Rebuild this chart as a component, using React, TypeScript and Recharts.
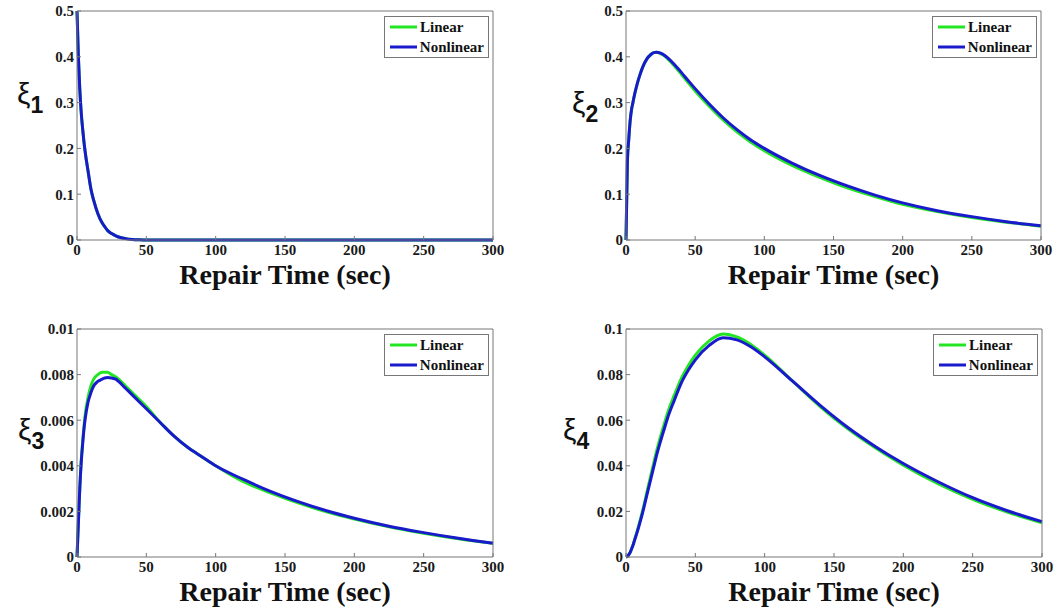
import { LineChart, Line, XAxis, YAxis, Legend, Label } from 'recharts';

// sample times (sec) shared by every series
const times = [
  0, 1, 2, 3, 4, 5, 6, 8, 10, 12, 15, 18, 20, 22, 25, 28, 30, 35, 40, 45, 50,
  60, 70, 80, 90, 100, 120, 140, 160, 180, 200, 225, 250, 275, 300,
];
const timeTicks = [0, 50, 100, 150, 200, 250, 300];

const xi1Linear = [
  0.5, 0.4, 0.33, 0.28, 0.245, 0.215, 0.19, 0.15, 0.112, 0.087, 0.058, 0.038,
  0.029, 0.021, 0.014, 0.009, 0.0065, 0.003, 0.0012, 0.0004, 0, 0, 0, 0, 0, 0,
  0, 0, 0, 0, 0, 0, 0, 0, 0,
];
const xi1Nonlinear = [
  0.5, 0.4, 0.33, 0.28, 0.245, 0.215, 0.19, 0.15, 0.112, 0.087, 0.058, 0.038,
  0.029, 0.021, 0.014, 0.009, 0.0065, 0.003, 0.0012, 0.0004, 0, 0, 0, 0, 0, 0,
  0, 0, 0, 0, 0, 0, 0, 0, 0,
];

const xi2Linear = [
  0, 0.17, 0.22, 0.26, 0.285, 0.3, 0.315, 0.34, 0.36, 0.377, 0.395, 0.405,
  0.409, 0.41, 0.407, 0.4015, 0.396, 0.38, 0.362, 0.3435, 0.3255, 0.2925,
  0.2625, 0.2365, 0.214, 0.195, 0.163, 0.137, 0.114, 0.095, 0.078, 0.062,
  0.049, 0.039, 0.03,
];
const xi2Nonlinear = [
  0, 0.17, 0.22, 0.26, 0.285, 0.3, 0.315, 0.34, 0.36, 0.377, 0.395, 0.405,
  0.409, 0.41, 0.408, 0.403, 0.398, 0.383, 0.366, 0.348, 0.3305, 0.2975,
  0.2675, 0.2415, 0.219, 0.2, 0.168, 0.141, 0.118, 0.098, 0.081, 0.064, 0.051,
  0.04, 0.031,
];

const xi3Linear = [
  0, 0.0015, 0.003, 0.0042, 0.005, 0.0057, 0.0063, 0.007, 0.0075, 0.0078,
  0.008, 0.0081, 0.0081, 0.0081, 0.008, 0.0079, 0.0078, 0.0075, 0.0072,
  0.0069, 0.0066, 0.0059, 0.0053, 0.0048, 0.0044, 0.004, 0.0033, 0.0028,
  0.00236, 0.00198, 0.00166, 0.00132, 0.00104, 0.0008, 0.0006,
];
const xi3Nonlinear = [
  0, 0.0015, 0.003, 0.0041, 0.0049, 0.0056, 0.0061, 0.0068, 0.0072, 0.0075,
  0.0077, 0.0078, 0.00785, 0.00787, 0.00785, 0.0078, 0.0077, 0.0074, 0.0071,
  0.0068, 0.0065, 0.0059, 0.0053, 0.0048, 0.0044, 0.004, 0.0034, 0.00287,
  0.00242, 0.00203, 0.0017, 0.00135, 0.00107, 0.00082, 0.0006,
];

const xi4Linear = [
  0, 0.0003, 0.001, 0.002, 0.0036, 0.0052, 0.0072, 0.0112, 0.0157, 0.0203,
  0.0282, 0.036, 0.0412, 0.0463, 0.053, 0.0592, 0.0632, 0.0712, 0.0785,
  0.084, 0.0885, 0.0948, 0.0978, 0.0965, 0.0932, 0.0885, 0.0772, 0.066,
  0.0562, 0.0478, 0.0403, 0.0322, 0.0253, 0.0197, 0.015,
];
const xi4Nonlinear = [
  0, 0.0003, 0.001, 0.002, 0.0035, 0.005, 0.007, 0.0108, 0.015, 0.0195,
  0.027, 0.0345, 0.0395, 0.0445, 0.051, 0.057, 0.061, 0.069, 0.0765, 0.082,
  0.0865, 0.0928, 0.0962, 0.0952, 0.0922, 0.0878, 0.0772, 0.0665, 0.0568,
  0.0484, 0.041, 0.033, 0.026, 0.0203, 0.0155,
];

const yTicksLarge = [0, 0.1, 0.2, 0.3, 0.4, 0.5];
const yTicksXi3 = [0, 0.002, 0.004, 0.006, 0.008, 0.01];
const yTicksXi4 = [0, 0.02, 0.04, 0.06, 0.08, 0.1];

const SERIF = '"Liberation Serif", "Times New Roman", serif';
const SANS = '"Liberation Sans", Arial, sans-serif';
const GREEN = '#22e622';
const BLUE = '#1a1acd';
const AXIS = '#777';

const tickStyle = { fontFamily: SERIF, fontWeight: 'bold', fontSize: 15, fill: '#1a1a1a' };

type PanelProps = {
  index: number;
  linear: number[];
  nonlinear: number[];
  yTicks: number[];
  left: number;
  top: number;
  width: number;
  height: number;
  plotLeft: number;
  plotTop: number;
  plotRight: number;
  plotBottom: number;
  symbolX: number;
  symbolY: number;
};

function XiPanel(p: PanelProps) {
  const data = times.map((t, i) => ({ t, linear: p.linear[i], nonlinear: p.nonlinear[i] }));
  const yMax = p.yTicks[p.yTicks.length - 1];
  const midX = (p.plotLeft + p.plotRight) / 2;

  return (
    <div style={{ position: 'absolute', left: p.left, top: p.top }}>
      <LineChart
        width={p.width}
        height={p.height}
        data={data}
        margin={{ top: p.plotTop - 1, right: p.width - p.plotRight - 1, left: 0, bottom: 0 }}
      >
        <XAxis
          xAxisId="bottom"
          dataKey="t"
          type="number"
          domain={[0, 300]}
          ticks={timeTicks}
          interval={0}
          height={p.height - p.plotBottom}
          stroke={AXIS}
          tickSize={-4}
          tickMargin={8}
          tick={tickStyle}
        >
          <Label
            content={() => (
              <text
                x={midX}
                y={p.plotBottom + 44}
                textAnchor="middle"
                fontFamily={SERIF}
                fontWeight="bold"
                fontSize={28}
                fill="#111"
              >
                Repair Time (sec)
              </text>
            )}
          />
        </XAxis>
        {/* mirrored axes close the box and carry the inward ticks */}
        <XAxis
          xAxisId="top"
          orientation="top"
          dataKey="t"
          type="number"
          domain={[0, 300]}
          ticks={timeTicks}
          interval={0}
          height={1}
          stroke={AXIS}
          tickSize={-4}
          tick={false}
        />
        <YAxis
          yAxisId="left"
          type="number"
          domain={[0, yMax]}
          ticks={p.yTicks}
          interval={0}
          width={p.plotLeft}
          stroke={AXIS}
          tickSize={-4}
          tickMargin={7}
          tick={tickStyle}
          tickFormatter={(v: number) => String(v)}
        >
          <Label
            content={() => (
              <text x={p.symbolX} y={p.symbolY} fontFamily={SANS} fill="#111">
                <tspan fontSize={30}>ξ</tspan>
                <tspan fontSize={23} fontWeight="bold" dy={9}>
                  {p.index}
                </tspan>
              </text>
            )}
          />
        </YAxis>
        <YAxis
          yAxisId="right"
          orientation="right"
          type="number"
          domain={[0, yMax]}
          ticks={p.yTicks}
          interval={0}
          width={1}
          stroke={AXIS}
          tickSize={-4}
          tick={false}
        />
        <Legend
          layout="vertical"
          align="center"
          verticalAlign="middle"
          wrapperStyle={{ left: p.plotRight - 109, top: p.plotTop + 5, width: 105 }}
          content={({ payload }: any) => (
            <div
              style={{
                border: `1px solid ${AXIS}`,
                background: '#fff',
                padding: '0 4px 0 5px',
                boxSizing: 'border-box',
                width: 105,
              }}
            >
              {(payload || []).map((entry: any) => (
                <div
                  key={entry.value}
                  style={{ display: 'flex', alignItems: 'center', height: 20 }}
                >
                  <svg width={28} height={20} style={{ marginRight: 2 }}>
                    <line x1={0} y1={10} x2={27} y2={10} stroke={entry.color} strokeWidth={3} />
                  </svg>
                  <span
                    style={{
                      fontFamily: SERIF,
                      fontWeight: 'bold',
                      fontSize: 15,
                      color: '#111',
                    }}
                  >
                    {entry.value}
                  </span>
                </div>
              ))}
            </div>
          )}
        />
        <Line
          xAxisId="bottom"
          yAxisId="left"
          type="monotone"
          dataKey="linear"
          name="Linear"
          stroke={GREEN}
          strokeWidth={3}
          dot={false}
          isAnimationActive={false}
        />
        <Line
          xAxisId="bottom"
          yAxisId="left"
          type="monotone"
          dataKey="nonlinear"
          name="Nonlinear"
          stroke={BLUE}
          strokeWidth={3}
          dot={false}
          isAnimationActive={false}
        />
      </LineChart>
    </div>
  );
}

export default function App() {
  return (
    <div
      style={{
        position: 'absolute',
        left: 0,
        top: 0,
        width: 1055,
        height: 610,
        background: '#fff',
        overflow: 'hidden',
      }}
    >
      <XiPanel
        index={1}
        linear={xi1Linear}
        nonlinear={xi1Nonlinear}
        yTicks={yTicksLarge}
        left={0}
        top={0}
        width={515}
        height={290}
        plotLeft={77}
        plotTop={11}
        plotRight={493}
        plotBottom={240}
        symbolX={17}
        symbolY={104}
      />
      <XiPanel
        index={2}
        linear={xi2Linear}
        nonlinear={xi2Nonlinear}
        yTicks={yTicksLarge}
        left={530}
        top={0}
        width={525}
        height={290}
        plotLeft={96}
        plotTop={11}
        plotRight={511}
        plotBottom={240}
        symbolX={42}
        symbolY={113}
      />
      <XiPanel
        index={3}
        linear={xi3Linear}
        nonlinear={xi3Nonlinear}
        yTicks={yTicksXi3}
        left={0}
        top={300}
        width={515}
        height={310}
        plotLeft={77}
        plotTop={29}
        plotRight={493}
        plotBottom={257}
        symbolX={18}
        symbolY={140}
      />
      <XiPanel
        index={4}
        linear={xi4Linear}
        nonlinear={xi4Nonlinear}
        yTicks={yTicksXi4}
        left={530}
        top={300}
        width={525}
        height={310}
        plotLeft={96}
        plotTop={29}
        plotRight={512}
        plotBottom={257}
        symbolX={33}
        symbolY={140}
      />
    </div>
  );
}
